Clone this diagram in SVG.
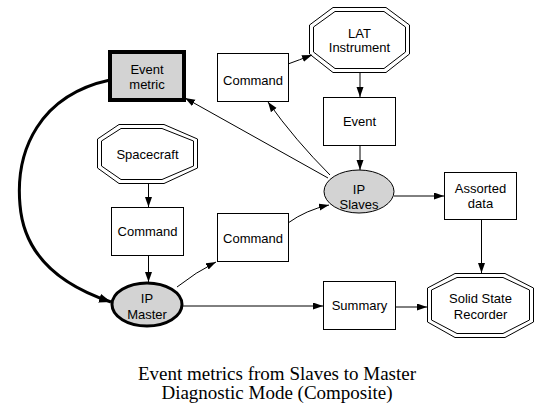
<svg xmlns="http://www.w3.org/2000/svg" width="551" height="416" viewBox="0 0 551 416">
<style>
.box{fill:#fff;stroke:#000;stroke-width:1}
.oct{fill:none;stroke:#000;stroke-width:1}
.ell{fill:#d3d3d3;stroke:#000;stroke-width:1}
.lbl{font-family:"Liberation Sans",Arial,sans-serif;font-size:13px;fill:#000;text-anchor:middle}
.cap{font-family:"Liberation Serif","Times New Roman",serif;font-size:19px;fill:#000;text-anchor:middle}
.edge{fill:none;stroke:#000;stroke-width:1;marker-end:url(#ah)}
.thick{fill:none;stroke:#000;stroke-width:3;marker-end:url(#ahb)}
</style>
<defs>
<marker id="ah" markerUnits="userSpaceOnUse" markerWidth="11" markerHeight="8" refX="10" refY="3.5" orient="auto">
<path d="M0,0 L10,3.5 L0,7 z" fill="#000"/>
</marker>
<marker id="ahb" markerUnits="userSpaceOnUse" markerWidth="13" markerHeight="10" refX="12" refY="4.5" orient="auto">
<path d="M0,0 L12,4.5 L0,9 z" fill="#000"/>
</marker>
</defs>
<rect width="551" height="416" fill="#fff"/>
<g id="connectors">
<path class="edge" d="M360,72 L360,97"/>
<path class="edge" d="M360,145 L360,170"/>
<path class="edge" d="M394,196 L444,196"/>
<path class="edge" d="M481.5,219 L481.5,273"/>
<path class="edge" d="M396,307 L427,307"/>
<path class="edge" d="M183,306 L323,306"/>
<path class="edge" d="M148.5,183 L148.5,207"/>
<path class="edge" d="M148.5,255 L148.5,282"/>
<path class="edge" d="M177,287 Q196,272 216,262"/>
<path class="edge" d="M288,223 Q306,210 329,205"/>
<path class="edge" d="M328,178 L185,98"/>
<path class="edge" d="M330,175 Q295,140 268,102"/>
<path class="edge" d="M288,64 Q299,60 312,55"/>
<path class="thick" d="M110,80 C40,95 15,150 20,205 C24,255 60,285 111,302"/>
</g>
<g id="event-metric">
<rect x="110" y="52" width="74" height="48" fill="#d3d3d3" stroke="#000" stroke-width="4"/>
<text class="lbl" x="147" y="74">Event</text>
<text class="lbl" x="147" y="89">metric</text>
</g>
<g id="command-top">
<rect class="box" x="217.5" y="53.5" width="71" height="48"/>
<text class="lbl" x="253" y="84.5">Command</text>
</g>
<g id="lat-instrument">
<polygon class="oct" points="333,7.5 386,7.5 409.5,25 409.5,54 386,72.5 333,72.5 309.5,54 309.5,25"/>
<polygon class="oct" points="335,11.5 384,11.5 405.5,27 405.5,52 384,68.5 335,68.5 313.5,52 313.5,27"/>
<text class="lbl" x="359.5" y="37.5">LAT</text>
<text class="lbl" x="359.5" y="52">Instrument</text>
</g>
<g id="event">
<rect class="box" x="323.5" y="97.5" width="72" height="48"/>
<text class="lbl" x="359.5" y="126">Event</text>
</g>
<g id="ip-slaves">
<ellipse class="ell" cx="359" cy="191.5" rx="35" ry="21.5"/>
<text class="lbl" x="359" y="194">IP</text>
<text class="lbl" x="359" y="208.5">Slaves</text>
</g>
<g id="assorted-data">
<rect class="box" x="444.5" y="172.5" width="72" height="47"/>
<text class="lbl" x="480.5" y="193">Assorted</text>
<text class="lbl" x="480.5" y="208">data</text>
</g>
<g id="spacecraft">
<polygon class="oct" points="119,124.5 164,124.5 197.5,139 197.5,168 164,183.5 119,183.5 97.5,168 97.5,139"/>
<polygon class="oct" points="121,128.5 162,128.5 193.5,141 193.5,166 162,179.5 121,179.5 101.5,166 101.5,141"/>
<text class="lbl" x="147.5" y="159">Spacecraft</text>
</g>
<g id="command-left">
<rect class="box" x="111.5" y="207.5" width="72" height="48"/>
<text class="lbl" x="147.5" y="236">Command</text>
</g>
<g id="command-right">
<rect class="box" x="217.5" y="213.5" width="71" height="48"/>
<text class="lbl" x="253" y="243">Command</text>
</g>
<g id="ip-master">
<ellipse cx="147" cy="304.5" rx="35" ry="21.5" fill="#d3d3d3" stroke="#000" stroke-width="3"/>
<text class="lbl" x="147" y="303">IP</text>
<text class="lbl" x="147" y="319">Master</text>
</g>
<g id="summary">
<rect class="box" x="323.5" y="281.5" width="72" height="48"/>
<text class="lbl" x="359.5" y="310">Summary</text>
</g>
<g id="solid-state-recorder">
<polygon class="oct" points="455,273.5 505,273.5 533.5,288 533.5,322 505,337.5 455,337.5 427.5,322 427.5,288"/>
<polygon class="oct" points="457,277.5 503,277.5 529.5,290 529.5,320 503,333.5 457,333.5 431.5,320 431.5,290"/>
<text class="lbl" x="480.5" y="303">Solid State</text>
<text class="lbl" x="480.5" y="319">Recorder</text>
</g>
<g id="caption">
<text class="cap" x="277" y="380">Event metrics from Slaves to Master</text>
<text class="cap" x="277" y="399">Diagnostic Mode (Composite)</text>
</g>
</svg>
